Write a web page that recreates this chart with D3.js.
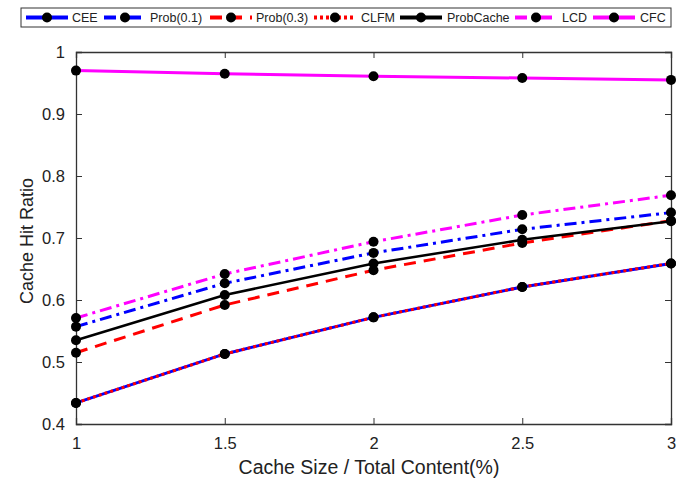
<!DOCTYPE html>
<html>
<head>
<meta charset="utf-8">
<script src="https://cdn.jsdelivr.net/npm/d3@7"></script>
<style>
  body { margin: 0; background: #fff; }
  text { font-family: "Liberation Sans", Arial, sans-serif; }
</style>
</head>
<body>
<div class="chart"></div>
<script>
const xValues = [1, 1.5, 2, 2.5, 3];
const xTicks = [1, 1.5, 2, 2.5, 3];
const yTicks = [0.4, 0.5, 0.6, 0.7, 0.8, 0.9, 1];

const cee = [0.434, 0.513, 0.572, 0.621, 0.659];
const prob01 = [0.557, 0.627, 0.676, 0.714, 0.741];
const prob03 = [0.515, 0.592, 0.648, 0.692, 0.728];
const clfm = [0.434, 0.513, 0.572, 0.621, 0.659];
const probCache = [0.535, 0.608, 0.659, 0.697, 0.727];
const lcd = [0.571, 0.642, 0.694, 0.737, 0.769];
const cfc = [0.970, 0.965, 0.961, 0.958, 0.955];

const seriesNames = ["CEE", "Prob(0.1)", "Prob(0.3)", "CLFM", "ProbCache", "LCD", "CFC"];
const seriesValues = [cee, prob01, prob03, clfm, probCache, lcd, cfc];
const seriesColors = ["#0000ff", "#0000ff", "#ff0000", "#ff0000", "#000000", "#ff00ff", "#ff00ff"];
const seriesDash = [null, "12,5,3,5", "12,8", "3,3", null, "12,5,3,5", null];
const seriesWidth = [3, 3, 3, 3, 2.5, 3, 3];
// draw order: CLFM dotted over CEE solid
const drawOrder = [0, 3, 2, 4, 1, 5, 6];

const margin = {top: 52, right: 12, bottom: 56, left: 76};
const W = 683, H = 480;
const width = W - margin.left - margin.right,
      height = H - margin.top - margin.bottom;

const svg = d3.select(".chart").append("svg")
    .attr("width", W)
    .attr("height", H);

const g = svg.append("g")
    .attr("transform", "translate(" + margin.left + "," + margin.top + ")");

const x = d3.scaleLinear().domain([1, 3]).range([0, width]);
const y = d3.scaleLinear().domain([0.4, 1]).range([height, 0]);

// axes (MATLAB style box, inward ticks)
const axisColor = "#333";
const xAxis = g.append("g")
    .attr("transform", "translate(0," + height + ")")
    .call(d3.axisBottom(x).tickValues(xTicks).tickSize(-6).tickPadding(13)
        .tickFormat(d => d3.format("")(d)));
const yAxis = g.append("g")
    .call(d3.axisLeft(y).tickValues(yTicks).tickSize(-6).tickPadding(11)
        .tickFormat(d => d3.format("")(d)));
const xTop = g.append("g")
    .call(d3.axisTop(x).tickValues(xTicks).tickSize(-6).tickFormat(""));
const yRight = g.append("g")
    .attr("transform", "translate(" + width + ",0)")
    .call(d3.axisRight(y).tickValues(yTicks).tickSize(-6).tickFormat(""));

[xAxis, yAxis, xTop, yRight].forEach(a => {
    a.selectAll(".domain").attr("stroke", axisColor).attr("stroke-width", 1.3);
    a.selectAll(".tick line").attr("stroke", axisColor);
    a.selectAll(".tick text").attr("fill", "#222").style("font-size", "16.5px");
});

// lines
const line = d3.line()
    .x((d, i) => x(xValues[i]))
    .y(d => y(d));

drawOrder.forEach(k => {
    g.append("path")
        .datum(seriesValues[k])
        .attr("fill", "none")
        .attr("stroke", seriesColors[k])
        .attr("stroke-width", seriesWidth[k])
        .attr("stroke-dasharray", seriesDash[k])
        .attr("d", line);
});
drawOrder.forEach(k => {
    g.selectAll(null)
        .data(seriesValues[k])
        .enter()
        .append("circle")
        .attr("cx", (d, i) => x(xValues[i]))
        .attr("cy", d => y(d))
        .attr("r", 5)
        .attr("fill", "#000");
});

// axis labels
svg.append("text")
    .attr("x", 369)
    .attr("y", 474)
    .attr("text-anchor", "middle")
    .style("font-size", "19.5px")
    .attr("fill", "#222")
    .text("Cache Size / Total Content(%)");

svg.append("text")
    .attr("transform", "translate(33,241) rotate(-90)")
    .attr("text-anchor", "middle")
    .style("font-size", "18px")
    .attr("fill", "#222")
    .text("Cache Hit Ratio");

// legend
const legend = svg.append("g");
legend.append("rect")
    .attr("x", 21).attr("y", 8)
    .attr("width", 650).attr("height", 19)
    .attr("fill", "#fff")
    .attr("stroke", "#333")
    .attr("stroke-width", 1);

const legendLineX = [26, 104, 210, 314, 400, 515, 593];
const legendTextX = [72, 150, 256, 361, 447, 562, 640];
const legY = 17.5;
seriesNames.forEach((name, k) => {
    legend.append("line")
        .attr("x1", legendLineX[k]).attr("x2", legendLineX[k] + 42)
        .attr("y1", legY).attr("y2", legY)
        .attr("stroke", seriesColors[k])
        .attr("stroke-width", 4)
        .attr("stroke-dasharray", seriesDash[k]);
    legend.append("circle")
        .attr("cx", legendLineX[k] + 21).attr("cy", legY)
        .attr("r", 5).attr("fill", "#000");
    legend.append("text")
        .attr("x", legendTextX[k]).attr("y", legY + 4.5)
        .style("font-size", "12.5px")
        .attr("fill", "#222")
        .text(name);
});
</script>
</body>
</html>
